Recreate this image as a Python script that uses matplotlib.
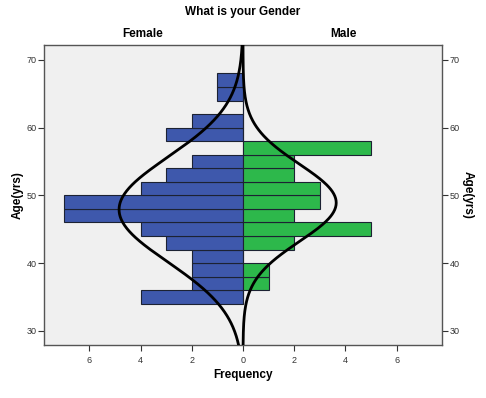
import matplotlib
matplotlib.use('Agg')
import matplotlib.pyplot as plt
import numpy as np

# bins of 2 years, lower edge of each bin
bin_starts = [34, 36, 38, 40, 42, 44, 46, 48, 50, 52, 54, 56, 58, 60, 62, 64, 66]
female = [4, 2, 2, 2, 3, 4, 7, 7, 4, 3, 2, 0, 3, 2, 0, 1, 1]
male = [0, 1, 1, 0, 2, 5, 2, 3, 3, 2, 2, 5, 0, 0, 0, 0, 0]
bin_width = 2

# normal curve parameters (mean, sd)
female_fit = (47.9, 7.75)
male_fit = (48.9, 5.7)

x_ticks = [-6, -4, -2, 0, 2, 4, 6]
y_ticks = [30, 40, 50, 60, 70]

plt.rcParams['font.family'] = ['Liberation Sans', 'DejaVu Sans']

fig = plt.figure(figsize=(4.86, 3.98), dpi=100)
ax = fig.add_axes([44 / 486, 1 - 345 / 398, 398 / 486, 300 / 398])
ax.set_facecolor('#F0F0F0')

ages = np.array(bin_starts) + bin_width / 2
ax.barh(ages, [-v for v in female], height=bin_width, color='#3E58AC',
        edgecolor='#1c2233', linewidth=0.8, zorder=2)
ax.barh(ages, male, height=bin_width, color='#2DB84B',
        edgecolor='#1c2233', linewidth=0.8, zorder=2)

# normal curves scaled to counts
yy = np.linspace(27.9, 72.2, 400)
for sign, counts, (mu, sd) in [(-1, female, female_fit), (1, male, male_fit)]:
    n = sum(counts)
    curve = n * bin_width / (sd * np.sqrt(2 * np.pi)) * np.exp(-0.5 * ((yy - mu) / sd) ** 2)
    ax.plot(sign * curve, yy, color='black', lw=2, zorder=3)

ax.set_xlim(-7.77, 7.77)
ax.set_ylim(27.9, 72.2)
ax.set_xticks(x_ticks)
ax.set_xticklabels([str(abs(t)) for t in x_ticks])
ax.set_yticks(y_ticks)
ax.tick_params(axis='both', labelsize=6.5, length=4, width=0.8, colors='#333333')
ax.tick_params(axis='y', right=True, labelright=True, pad=1.5)
ax.tick_params(axis='x', pad=4)
for s in ax.spines.values():
    s.set_color('#555555')
    s.set_linewidth(1)

mid_y = 0.5 * (1 - 45 / 398 + 1 - 345 / 398)
fig.text(18 / 486, mid_y, 'Age(yrs)', rotation=90,
         fontsize=8.5, fontweight='bold', ha='center', va='center')
fig.text(468 / 486, mid_y, 'Age(yrs)', rotation=-90,
         fontsize=8.5, fontweight='bold', ha='center', va='center')
fig.text(243 / 486, 1 - 375 / 398, 'Frequency', fontsize=8.5,
         fontweight='bold', ha='center', va='center')

fig.text(243 / 486, 1 - 12 / 398, 'What is your Gender', fontsize=8.5,
         fontweight='bold', ha='center', va='center')
fig.text(143 / 486, 1 - 34 / 398, 'Female', fontsize=8.5,
         fontweight='bold', ha='center', va='center')
fig.text(343 / 486, 1 - 34 / 398, 'Male', fontsize=8.5,
         fontweight='bold', ha='center', va='center')

plt.savefig('out.png', dpi=100)
plt.close()
